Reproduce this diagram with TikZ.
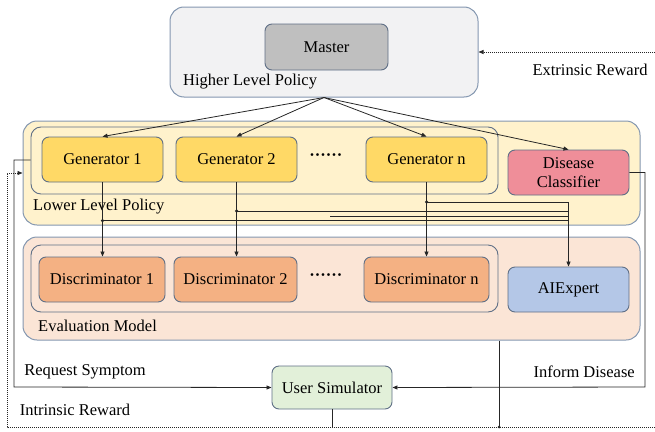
\documentclass[tikz,border=0pt]{standalone}
\usepackage{fontspec}
\setmainfont{Liberation Serif}
\usetikzlibrary{arrows.meta}
\definecolor{bord}{HTML}{8497B0}
\definecolor{bordd}{HTML}{5F6F86}
\definecolor{hlpfill}{HTML}{F2F2F3}
\definecolor{masterfill}{HTML}{BFBFBF}
\definecolor{lowfill}{HTML}{FFF2CC}
\definecolor{genfill}{HTML}{FFD966}
\definecolor{dcfill}{HTML}{EF8E99}
\definecolor{evalfill}{HTML}{FBE5D6}
\definecolor{discfill}{HTML}{F4B183}
\definecolor{aifill}{HTML}{B4C7E7}
\definecolor{usfill}{HTML}{E2F0D9}
\definecolor{ln}{HTML}{262626}
\tikzset{
  outerbox/.style={draw=bord, line width=1pt, rounded corners=14pt, inner sep=0pt},
  innerbox/.style={draw=bordd, line width=0.9pt, rounded corners=10pt, inner sep=0pt},
  unit/.style={draw=bordd, line width=0.9pt, rounded corners=7pt, minimum width=121pt, minimum height=45pt, inner sep=0pt, align=center, font=\fontsize{16.5}{19}\selectfont},
  lbl/.style={font=\fontsize{16.5}{19}\selectfont, inner sep=0pt},
  conn/.style={draw=ln, line width=0.8pt},
  arr/.style={conn, -{Triangle[length=5pt,width=4pt]}},
  dotl/.style={draw=ln, line width=0.9pt, dash pattern=on 1.2pt off 0.8pt},
  darr/.style={dotl, -{Triangle[length=5pt,width=4pt]}},
  jdot/.style={circle, fill=ln, inner sep=0pt, minimum size=3.5pt},
}
\begin{document}
\begin{tikzpicture}[x=1pt,y=-1pt]
\useasboundingbox (0,0) rectangle (655,431);
% Higher level policy
\node[outerbox, fill=hlpfill, minimum width=308pt, minimum height=90pt] (hlp) at (324,52) {};
\node[unit, fill=masterfill, minimum width=123pt, minimum height=46pt] (master) at (326.5,47) {Master};
\node[lbl, anchor=west] (hlpl) at (183,82) {Higher Level Policy};
% Lower level policy
\node[outerbox, fill=lowfill, minimum width=617pt, minimum height=104pt] (low) at (331.5,173) {};
\node[innerbox, minimum width=467pt, minimum height=67pt] (lowin) at (264.5,160.5) {};
\node[unit, fill=genfill] (g1) at (102.5,159.5) {Generator 1};
\node[unit, fill=genfill] (g2) at (236.5,159.5) {Generator 2};
\node[unit, fill=genfill] (gn) at (426.5,159.5) {Generator n};
\node[lbl] (gdots) at (326,157) {\textbf{\textperiodcentered\textperiodcentered\textperiodcentered\textperiodcentered\textperiodcentered\textperiodcentered}};
\node[unit, fill=dcfill] (dc) at (568.5,172.5) {Disease\\Classifier};
\node[lbl, anchor=west] (lowl) at (33,207) {Lower Level Policy};
% Evaluation model
\node[outerbox, fill=evalfill, minimum width=617pt, minimum height=103pt] (ev) at (331.5,288.5) {};
\node[innerbox, minimum width=467pt, minimum height=67pt] (evin) at (264.5,278.5) {};
\node[unit, fill=discfill, minimum width=126pt] (d1) at (102,279.5) {Discriminator 1};
\node[unit, fill=discfill, minimum width=123pt] (d2) at (235.5,279.5) {Discriminator 2};
\node[unit, fill=discfill, minimum width=125pt] (dn) at (426.5,279.5) {Discriminator n};
\node[lbl] (ddots) at (326,277) {\textbf{\textperiodcentered\textperiodcentered\textperiodcentered\textperiodcentered\textperiodcentered\textperiodcentered}};
\node[unit, fill=aifill] (ai) at (568.5,289.5) {AIExpert};
\node[lbl, anchor=west] (evl) at (38,326) {Evaluation Model};
% User simulator
\node[unit, fill=usfill, minimum width=120pt, minimum height=43pt] (us) at (332,387.5) {User Simulator};
\node[lbl] (rs) at (85,372) {Request Symptom};
\node[lbl, anchor=east] (idl) at (635,372) {Inform Disease};
\node[lbl] (irl) at (75,410) {Intrinsic Reward};
\node[lbl] (erl) at (590,70) {Extrinsic Reward};
% master to generators
\draw[arr] (hlp.south) -- (g1.north);
\draw[arr] (hlp.south) -- (g2.north);
\draw[arr] (hlp.south) -- (gn.north);
\draw[arr] (hlp.south) -- (dc.north);
% generators to discriminators
\draw[arr] (g1.south) -- (g1.south |- d1.north);
\draw[arr] (g2.south) -- (g2.south |- d2.north);
\draw[arr] (gn.south) -- (gn.south |- dn.north);
% bus to AIExpert
\coordinate (b1) at (102.5,220.5);
\coordinate (b2) at (236.5,211);
\coordinate (b3) at (426.5,202);
\coordinate (b4) at (330,216);
\node[jdot] at (b1) {};
\node[jdot] at (b2) {};
\node[jdot] at (b3) {};
\draw[conn] (b1) -- (b1 -| ai.north);
\draw[conn] (b2) -- (b2 -| ai.north);
\draw[conn] (b4) -- (b4 -| ai.north);
\draw[conn] (b3) -- (b3 -| ai.north);
\draw[arr] (b3 -| ai.north) -- (ai.north);
% request symptom
\coordinate (rsl) at (14,160);
\coordinate (rsb) at (14,387);
\draw[arr] (lowin.west |- rsl) -- (rsl) -- (rsb) -- (us.west);
% inform disease
\coordinate (idt) at (645,172.5);
\coordinate (idb) at (645,387);
\draw[arr] (dc.east) -- (idt) -- (idb) -- (us.east);
% intrinsic reward loop
\coordinate (irb) at (332,427);
\coordinate (irl0) at (7,427);
\coordinate (irl1) at (7,173);
\coordinate (irr) at (655,427);
\draw[dotl] (us.south) -- (irb);
\draw[darr] (irr) -- (irl0) -- (irl1) -- (low.west |- irl1);
% evaluation to reward line
\coordinate (evb) at (499,427);
\draw[conn] (ev.south -| evb) -- (evb);
\node[jdot, minimum size=3pt] at (evb) {};
% extrinsic reward
\coordinate (ert) at (655,52);
\draw[darr] (ert) -- (hlp.east);
\end{tikzpicture}
\end{document}
